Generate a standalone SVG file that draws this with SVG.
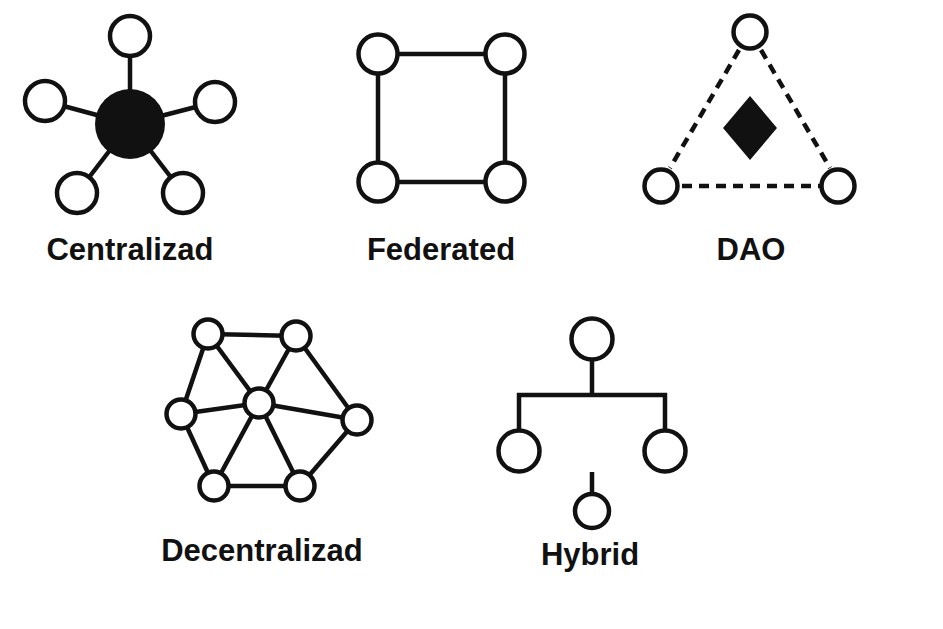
<svg xmlns="http://www.w3.org/2000/svg" width="943" height="629" viewBox="0 0 943 629">
<style>
.ln{stroke:#111;stroke-width:4.5;fill:none;stroke-linecap:butt}
.dash{stroke:#111;stroke-width:4.5;fill:none;stroke-dasharray:10 7}
.nd{fill:#fff;stroke:#111;stroke-width:4.5}
.fill{fill:#111;stroke:none}
.lbl{font-family:"Liberation Sans",Arial,sans-serif;font-weight:bold;font-size:31px;fill:#111;text-anchor:middle}
</style>
<rect width="943" height="629" fill="#fff"/>
<g id="connectors">
  <!-- Centralized -->
  <line class="ln" x1="130" y1="124" x2="130" y2="36"/>
  <line class="ln" x1="130" y1="124" x2="45" y2="101"/>
  <line class="ln" x1="130" y1="124" x2="215" y2="102"/>
  <line class="ln" x1="130" y1="124" x2="77" y2="193"/>
  <line class="ln" x1="130" y1="124" x2="183" y2="193"/>
  <!-- Federated -->
  <line class="ln" x1="378" y1="54" x2="505" y2="54"/>
  <line class="ln" x1="378" y1="182" x2="505" y2="182"/>
  <line class="ln" x1="378" y1="54" x2="378" y2="182"/>
  <line class="ln" x1="505" y1="54" x2="505" y2="182"/>
  <!-- DAO -->
  <line class="dash" x1="739" y1="50" x2="670" y2="168"/>
  <line class="dash" x1="761" y1="50" x2="830" y2="168"/>
  <line class="dash" x1="682" y1="186" x2="820" y2="186"/>
  <!-- Decentralized -->
  <line class="ln" x1="208" y1="334" x2="296" y2="336"/>
  <line class="ln" x1="208" y1="334" x2="181" y2="414"/>
  <line class="ln" x1="208" y1="334" x2="259" y2="403"/>
  <line class="ln" x1="296" y1="336" x2="259" y2="403"/>
  <line class="ln" x1="296" y1="336" x2="357" y2="420"/>
  <line class="ln" x1="181" y1="414" x2="259" y2="403"/>
  <line class="ln" x1="181" y1="414" x2="214" y2="486"/>
  <line class="ln" x1="259" y1="403" x2="357" y2="420"/>
  <line class="ln" x1="259" y1="403" x2="214" y2="486"/>
  <line class="ln" x1="259" y1="403" x2="300" y2="486"/>
  <line class="ln" x1="214" y1="486" x2="300" y2="486"/>
  <line class="ln" x1="300" y1="486" x2="357" y2="420"/>
  <!-- Hybrid -->
  <line class="ln" x1="592" y1="360" x2="592" y2="395"/>
  <polyline class="ln" points="519,431 519,395 665,395 665,431"/>
  <line class="ln" x1="592" y1="472" x2="592" y2="495"/>
</g>
<g id="centralized">
  <circle class="fill" cx="130" cy="124" r="35"/>
  <circle class="nd" cx="130" cy="36" r="20"/>
  <circle class="nd" cx="45" cy="101" r="20"/>
  <circle class="nd" cx="215" cy="102" r="20"/>
  <circle class="nd" cx="77" cy="193" r="20"/>
  <circle class="nd" cx="183" cy="193" r="20"/>
  <text class="lbl" x="130" y="260">Centralizad</text>
</g>
<g id="federated">
  <circle class="nd" cx="378" cy="54" r="19.5"/>
  <circle class="nd" cx="505" cy="54" r="19.5"/>
  <circle class="nd" cx="378" cy="182" r="19.5"/>
  <circle class="nd" cx="505" cy="182" r="19.5"/>
  <text class="lbl" x="441" y="260">Federated</text>
</g>
<g id="dao">
  <circle class="nd" cx="750" cy="32" r="16.5"/>
  <circle class="nd" cx="661" cy="186" r="16.5"/>
  <circle class="nd" cx="838" cy="186" r="16.5"/>
  <polygon class="fill" points="750,96 777,128 750,160 723,128"/>
  <text class="lbl" x="751" y="260">DAO</text>
</g>
<g id="decentralized">
  <circle class="nd" cx="208" cy="334" r="14.5"/>
  <circle class="nd" cx="296" cy="336" r="14.5"/>
  <circle class="nd" cx="181" cy="414" r="14.5"/>
  <circle class="nd" cx="259" cy="403" r="14.5"/>
  <circle class="nd" cx="357" cy="420" r="14.5"/>
  <circle class="nd" cx="214" cy="486" r="14.5"/>
  <circle class="nd" cx="300" cy="486" r="14.5"/>
  <text class="lbl" x="262" y="561">Decentralizad</text>
</g>
<g id="hybrid">
  <circle class="nd" cx="592" cy="339" r="20.5"/>
  <circle class="nd" cx="519" cy="451" r="20.5"/>
  <circle class="nd" cx="665" cy="451" r="20.5"/>
  <circle class="nd" cx="592" cy="511" r="17"/>
  <text class="lbl" x="590" y="565">Hybrid</text>
</g>
</svg>
